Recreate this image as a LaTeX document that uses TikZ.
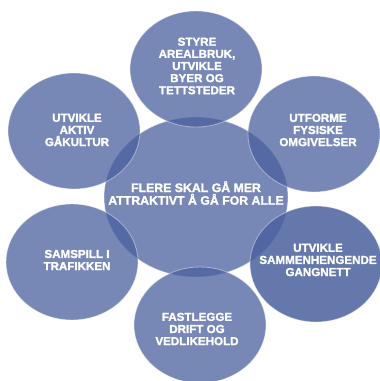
\documentclass[tikz,border=0pt]{standalone}
\usepackage{fontspec}
\setmainfont{Liberation Sans}[BoldFeatures={FakeBold=1.6}]
\usetikzlibrary{shapes.geometric}

\definecolor{ringblue}{RGB}{74,96,158}

\tikzset{
  ring/.style={ellipse, inner sep=0pt, fill=ringblue, fill opacity=0.75,
    draw=white, draw opacity=0.4, line width=0.5pt,
    minimum width=2.64cm, minimum height=2.32cm},
  hubring/.style={ring, minimum width=3.68cm, minimum height=3.2cm},
  darkring/.style={ring, fill opacity=0.85},
  ringtext/.style={text=white, text opacity=1, align=center, inner sep=0pt,
    font=\bfseries\fontsize{6.6}{6.9}\selectfont},
  hubtext/.style={ringtext, font=\bfseries\fontsize{7}{7.2}\selectfont}
}

\begin{document}
\begin{tikzpicture}[x=0.02cm,y=-0.02cm]
  \useasboundingbox (0,0) rectangle (379,381);

  \node [hubring] (hub) at (196,197) {};

  \node [ring] (styre) at (196,69) {};
  \node [ring] (aktiv) at (74,131) {};
  \node [ring] (fysiske) at (314,134) {};
  \node [ring] (samspill) at (72,262) {};
  \node [ring] (drift) at (200,325) {};
  \node [darkring] (gangnett) at (316,264) {};

  \node [hubtext] (hubtxt) at (196,193) {FLERE SKAL GÅ MER\\ATTRAKTIVT Å GÅ FOR ALLE};
  \node [ringtext] (styretxt) at (197,66) {STYRE\\AREALBRUK,\\UTVIKLE\\BYER OG\\TETTSTEDER};
  \node [ringtext] (aktivtxt) at (77,130) {UTVIKLE\\AKTIV\\GÅKULTUR};
  \node [ringtext] (fysisketxt) at (318,130) {UTFORME\\FYSISKE\\OMGIVELSER};
  \node [ringtext] (samspilltxt) at (77,260) {SAMSPILL I\\TRAFIKKEN};
  \node [ringtext] (gangnetttxt) at (318,260) {UTVIKLE\\SAMMENHENGENDE\\GANGNETT};
  \node [ringtext] (drifttxt) at (197,329) {FASTLEGGE\\DRIFT OG\\VEDLIKEHOLD};
\end{tikzpicture}
\end{document}
